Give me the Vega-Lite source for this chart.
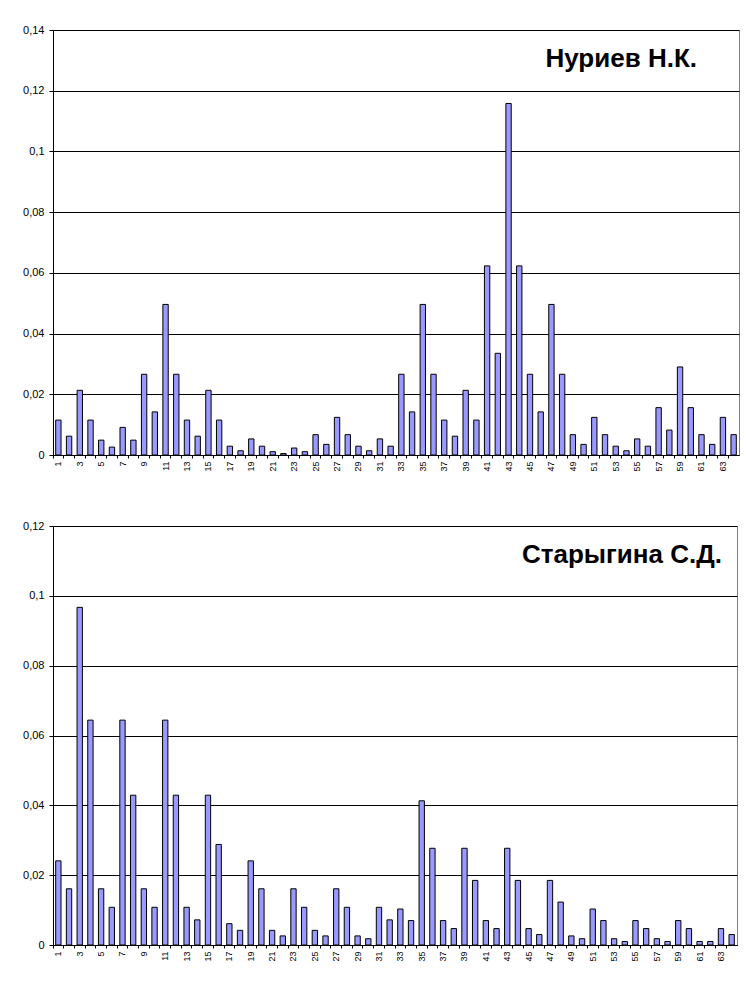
{
  "$schema": "https://vega.github.io/schema/vega-lite/v6.json",
  "background": "white",
  "padding": {"top": 23, "left": 22, "right": 6, "bottom": 5},
  "spacing": 47,
  "datasets": {
    "nuriev": [
      {"k": 1, "v": 0.0115}, {"k": 2, "v": 0.0062}, {"k": 3, "v": 0.0213}, {"k": 4, "v": 0.0115},
      {"k": 5, "v": 0.0049}, {"k": 6, "v": 0.0026}, {"k": 7, "v": 0.0091}, {"k": 8, "v": 0.0049},
      {"k": 9, "v": 0.0266}, {"k": 10, "v": 0.0142}, {"k": 11, "v": 0.0496}, {"k": 12, "v": 0.0266},
      {"k": 13, "v": 0.0115}, {"k": 14, "v": 0.0062}, {"k": 15, "v": 0.0213}, {"k": 16, "v": 0.0115},
      {"k": 17, "v": 0.0029}, {"k": 18, "v": 0.0014}, {"k": 19, "v": 0.0053}, {"k": 20, "v": 0.0029},
      {"k": 21, "v": 0.0011}, {"k": 22, "v": 0.0005}, {"k": 23, "v": 0.0023}, {"k": 24, "v": 0.0011},
      {"k": 25, "v": 0.0067}, {"k": 26, "v": 0.0035}, {"k": 27, "v": 0.0124}, {"k": 28, "v": 0.0067},
      {"k": 29, "v": 0.0029}, {"k": 30, "v": 0.0014}, {"k": 31, "v": 0.0053}, {"k": 32, "v": 0.0029},
      {"k": 33, "v": 0.0266}, {"k": 34, "v": 0.0142}, {"k": 35, "v": 0.0496}, {"k": 36, "v": 0.0266},
      {"k": 37, "v": 0.0115}, {"k": 38, "v": 0.0062}, {"k": 39, "v": 0.0213}, {"k": 40, "v": 0.0115},
      {"k": 41, "v": 0.0623}, {"k": 42, "v": 0.0335}, {"k": 43, "v": 0.1158}, {"k": 44, "v": 0.0623},
      {"k": 45, "v": 0.0266}, {"k": 46, "v": 0.0142}, {"k": 47, "v": 0.0496}, {"k": 48, "v": 0.0266},
      {"k": 49, "v": 0.0067}, {"k": 50, "v": 0.0035}, {"k": 51, "v": 0.0124}, {"k": 52, "v": 0.0067},
      {"k": 53, "v": 0.0029}, {"k": 54, "v": 0.0014}, {"k": 55, "v": 0.0053}, {"k": 56, "v": 0.0029},
      {"k": 57, "v": 0.0156}, {"k": 58, "v": 0.0082}, {"k": 59, "v": 0.029}, {"k": 60, "v": 0.0156},
      {"k": 61, "v": 0.0067}, {"k": 62, "v": 0.0035}, {"k": 63, "v": 0.0124}, {"k": 64, "v": 0.0067}
    ],
    "starygina": [
      {"k": 1, "v": 0.0241}, {"k": 2, "v": 0.0161}, {"k": 3, "v": 0.0967}, {"k": 4, "v": 0.0644},
      {"k": 5, "v": 0.0161}, {"k": 6, "v": 0.0108}, {"k": 7, "v": 0.0644}, {"k": 8, "v": 0.0429},
      {"k": 9, "v": 0.0161}, {"k": 10, "v": 0.0108}, {"k": 11, "v": 0.0644}, {"k": 12, "v": 0.0429},
      {"k": 13, "v": 0.0108}, {"k": 14, "v": 0.0072}, {"k": 15, "v": 0.0429}, {"k": 16, "v": 0.0288},
      {"k": 17, "v": 0.0061}, {"k": 18, "v": 0.0042}, {"k": 19, "v": 0.0241}, {"k": 20, "v": 0.0161},
      {"k": 21, "v": 0.0042}, {"k": 22, "v": 0.0026}, {"k": 23, "v": 0.0161}, {"k": 24, "v": 0.0108},
      {"k": 25, "v": 0.0042}, {"k": 26, "v": 0.0026}, {"k": 27, "v": 0.0161}, {"k": 28, "v": 0.0108},
      {"k": 29, "v": 0.0026}, {"k": 30, "v": 0.0018}, {"k": 31, "v": 0.0108}, {"k": 32, "v": 0.0072},
      {"k": 33, "v": 0.0103}, {"k": 34, "v": 0.007}, {"k": 35, "v": 0.0413}, {"k": 36, "v": 0.0277},
      {"k": 37, "v": 0.007}, {"k": 38, "v": 0.0047}, {"k": 39, "v": 0.0277}, {"k": 40, "v": 0.0185},
      {"k": 41, "v": 0.007}, {"k": 42, "v": 0.0047}, {"k": 43, "v": 0.0277}, {"k": 44, "v": 0.0185},
      {"k": 45, "v": 0.0047}, {"k": 46, "v": 0.003}, {"k": 47, "v": 0.0185}, {"k": 48, "v": 0.0123},
      {"k": 49, "v": 0.0026}, {"k": 50, "v": 0.0018}, {"k": 51, "v": 0.0103}, {"k": 52, "v": 0.007},
      {"k": 53, "v": 0.0018}, {"k": 54, "v": 0.001}, {"k": 55, "v": 0.007}, {"k": 56, "v": 0.0047},
      {"k": 57, "v": 0.0018}, {"k": 58, "v": 0.001}, {"k": 59, "v": 0.007}, {"k": 60, "v": 0.0047},
      {"k": 61, "v": 0.001}, {"k": 62, "v": 0.001}, {"k": 63, "v": 0.0047}, {"k": 64, "v": 0.003}
    ]
  },
  "vconcat": [
    {
      "data": {"name": "nuriev"},
      "width": 686,
      "height": 425,
      "title": {"text": "Нуриев Н.К.", "anchor": "end", "dx": -42, "dy": 52, "fontSize": 26, "font": "Liberation Sans", "fontWeight": "bold", "color": "black"},
      "mark": {"type": "bar", "fill": "#9999FF", "stroke": "black", "strokeWidth": 1},
      "encoding": {
        "x": {
          "field": "k", "type": "ordinal",
          "scale": {"paddingInner": 0.5, "paddingOuter": 0.25},
          "axis": {"title": null, "labelAngle": -90, "labelExpr": "datum.value % 2 == 1 ? datum.label : ''", "labelOverlap": false, "bandPosition": -0.5, "tickSize": 3, "tickColor": "black", "domainColor": "black", "labelColor": "black", "labelFont": "Liberation Sans", "labelFontSize": 9, "labelPadding": 3, "grid": false}
        },
        "y": {
          "field": "v", "type": "quantitative",
          "scale": {"domain": [0, 0.14], "nice": false},
          "axis": {"title": null, "values": [0, 0.02, 0.04, 0.06, 0.08, 0.1, 0.12, 0.14], "labelExpr": "replace(format(datum.value, '.2~f'), '.', ',')", "grid": true, "gridColor": "black", "gridWidth": 1, "gridOpacity": 1, "domainColor": "black", "tickColor": "black", "tickSize": 4, "labelPadding": 5, "labelFont": "Liberation Sans", "labelFontSize": 11, "labelColor": "black"}
        }
      }
    },
    {
      "data": {"name": "starygina"},
      "width": 684,
      "height": 419,
      "title": {"text": "Старыгина С.Д.", "anchor": "end", "dx": -15, "dy": 52, "fontSize": 26, "font": "Liberation Sans", "fontWeight": "bold", "color": "black"},
      "mark": {"type": "bar", "fill": "#9999FF", "stroke": "black", "strokeWidth": 1},
      "encoding": {
        "x": {
          "field": "k", "type": "ordinal",
          "scale": {"paddingInner": 0.5, "paddingOuter": 0.25},
          "axis": {"title": null, "labelAngle": -90, "labelExpr": "datum.value % 2 == 1 ? datum.label : ''", "labelOverlap": false, "bandPosition": -0.5, "tickSize": 3, "tickColor": "black", "domainColor": "black", "labelColor": "black", "labelFont": "Liberation Sans", "labelFontSize": 9, "labelPadding": 3, "grid": false}
        },
        "y": {
          "field": "v", "type": "quantitative",
          "scale": {"domain": [0, 0.12], "nice": false},
          "axis": {"title": null, "values": [0, 0.02, 0.04, 0.06, 0.08, 0.1, 0.12], "labelExpr": "replace(format(datum.value, '.2~f'), '.', ',')", "grid": true, "gridColor": "black", "gridWidth": 1, "gridOpacity": 1, "domainColor": "black", "tickColor": "black", "tickSize": 4, "labelPadding": 5, "labelFont": "Liberation Sans", "labelFontSize": 11, "labelColor": "black"}
        }
      }
    }
  ],
  "config": {
    "view": {"stroke": "#808080", "strokeWidth": 1},
    "font": "Liberation Sans"
  }
}
